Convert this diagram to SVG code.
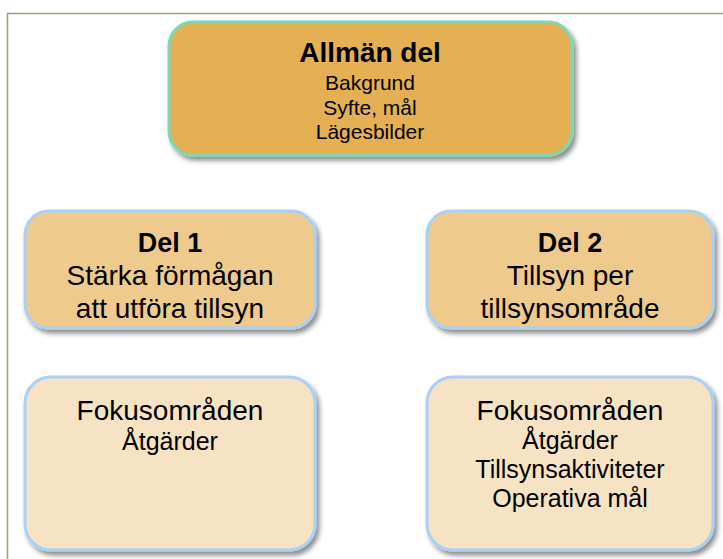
<svg xmlns="http://www.w3.org/2000/svg" width="723" height="559" viewBox="0 0 723 559">
<defs>
<filter id="sh" x="-10%" y="-10%" width="125%" height="130%">
<feDropShadow dx="3" dy="4" stdDeviation="2.5" flood-color="#000" flood-opacity="0.45"/>
</filter>
<style>
text{font-family:"Liberation Sans",Arial,sans-serif;fill:#000;text-anchor:middle}
.b{font-weight:bold}
.box{stroke-width:3;filter:url(#sh)}
.top{fill:#e4b052;stroke:#7fd6b2}
.mid{fill:#eecb8c;stroke:#a9d0f5}
.low{fill:#f5e3c3;stroke:#a9d0f5}
</style>
</defs>
<rect width="723" height="559" fill="#fff"/>
<g id="frame" fill="none" stroke="#a39e78" stroke-width="1.5">
<path d="M7.5 559V13.5H723"/>
</g>
<g id="connectors"></g>
<g id="allman">
<rect class="box top" x="169" y="22" width="403" height="133" rx="24"/>
<text class="b" x="370" y="62" font-size="28">Allmän del</text>
<text x="370" y="90" font-size="21">Bakgrund</text>
<text x="370" y="115" font-size="21">Syfte, mål</text>
<text x="370" y="139" font-size="21">Lägesbilder</text>
</g>
<g id="del1">
<rect class="box mid" x="25" y="211" width="290" height="117" rx="24"/>
<text class="b" x="170" y="252" font-size="27">Del 1</text>
<text x="170" y="285" font-size="28">Stärka förmågan</text>
<text x="170" y="318" font-size="28">att utföra tillsyn</text>
</g>
<g id="del2">
<rect class="box mid" x="427" y="211" width="286" height="117" rx="24"/>
<text class="b" x="570" y="252" font-size="27">Del 2</text>
<text x="570" y="285" font-size="28">Tillsyn per</text>
<text x="570" y="318" font-size="28">tillsynsområde</text>
</g>
<g id="fokus1">
<rect class="box low" x="25" y="377" width="290" height="173" rx="26"/>
<text x="170" y="420" font-size="28">Fokusområden</text>
<text x="170" y="450" font-size="25">Åtgärder</text>
</g>
<g id="fokus2">
<rect class="box low" x="427" y="377" width="286" height="173" rx="26"/>
<text x="570" y="420" font-size="28">Fokusområden</text>
<text x="570" y="449" font-size="25">Åtgärder</text>
<text x="570" y="478" font-size="25">Tillsynsaktiviteter</text>
<text x="570" y="507" font-size="25">Operativa mål</text>
</g>
</svg>
